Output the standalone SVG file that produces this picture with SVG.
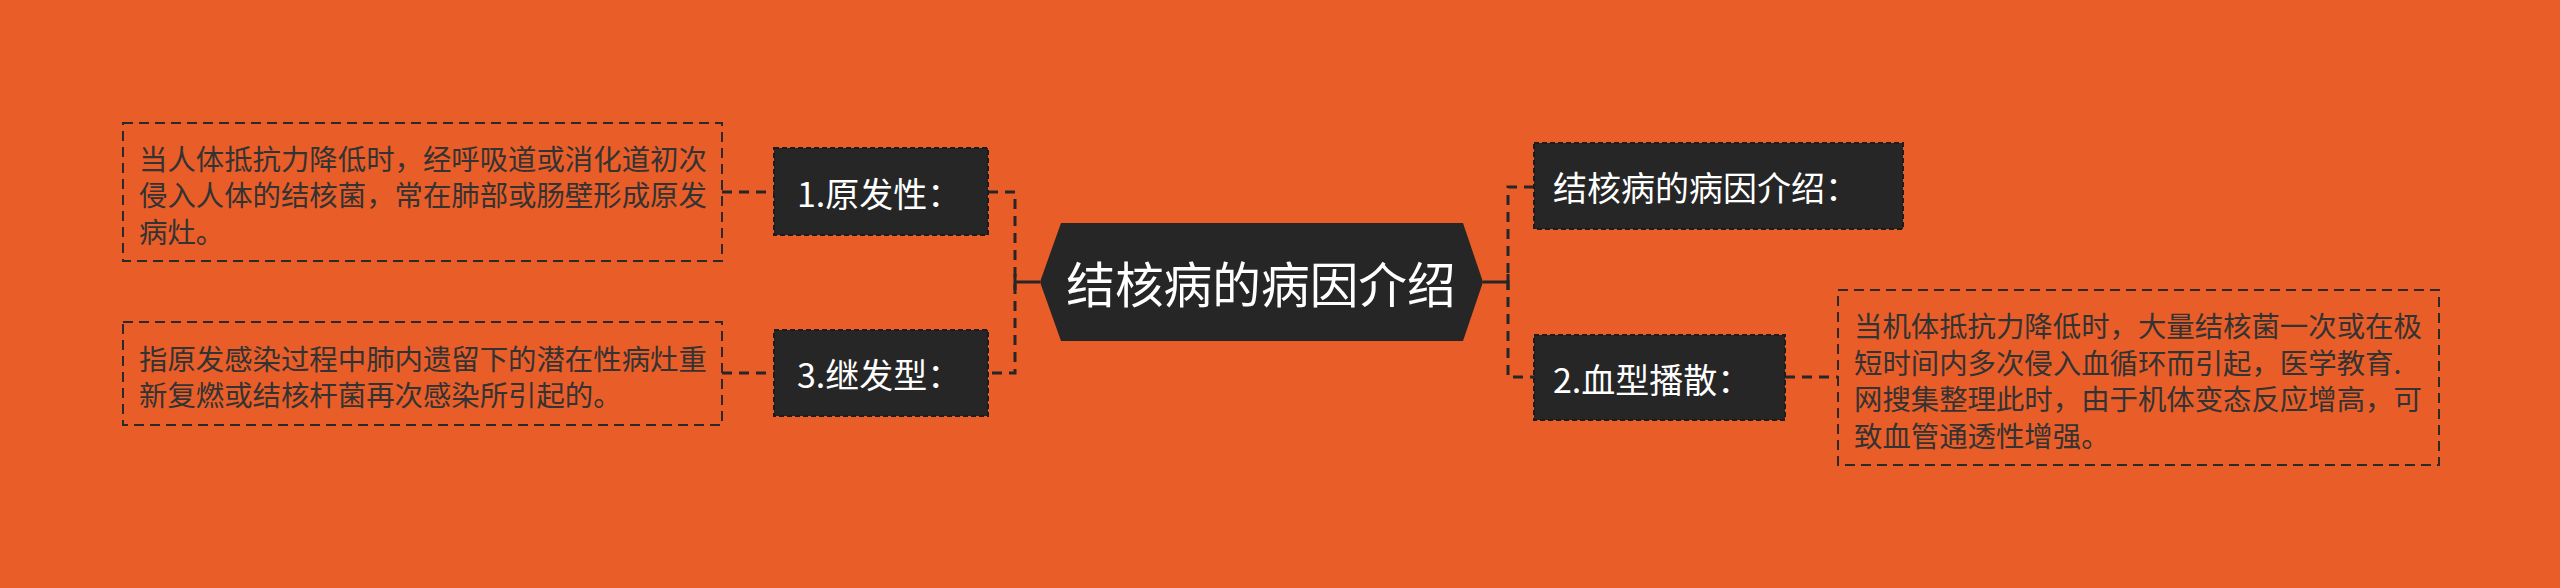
<svg xmlns="http://www.w3.org/2000/svg" width="2560" height="588" viewBox="0 0 2560 588">
<style>
.bg{fill:#E95D28}
.node{fill:#262626;stroke:#1c1c1c;stroke-width:2;stroke-dasharray:5 3}
.center{fill:#262626}
.ntext{font-family:"Noto Sans CJK SC","Noto Sans",sans-serif;font-size:34px;fill:#ffffff;dominant-baseline:central}
.ctext{font-family:"Noto Sans CJK SC","Noto Sans",sans-serif;font-size:48.7px;fill:#ffffff;dominant-baseline:central;text-anchor:middle}
.detail{fill:none;stroke:#2a2a2a;stroke-width:2;stroke-dasharray:10 6}
.dtext{font-family:"Noto Sans CJK SC","Noto Sans",sans-serif;font-size:28.4px;fill:#333333;dominant-baseline:central}
.dash{fill:none;stroke:#262626;stroke-width:3;stroke-dasharray:10 7}
.solid{fill:none;stroke:#262626;stroke-width:3}
</style>
<rect class="bg" x="0" y="0" width="2560" height="588"/>
<g id="connectors">
<path class="dash" d="M988,192 H1015 V373 H988"/>
<path class="solid" d="M1015,282 H1040 M1015,274 V290"/>
<path class="solid" d="M1483,282 H1508 M1508,274 V290"/>
<path class="dash" d="M1534,187 H1508 V377 H1534"/>
<path class="dash" d="M722,192 H774"/>
<path class="dash" d="M722,373 H774"/>
<path class="dash" d="M1785,377 H1838"/>
</g>
<g id="center">
<polygon class="center" points="1040,282 1061,223 1463,223 1483,282 1463,341 1061,341"/>
<text class="ctext" x="1261" y="282">结核病的病因介绍</text>
</g>
<g id="node1">
<rect class="node" x="774" y="148" width="214" height="87"/>
<text class="ntext" x="797" y="192">1.原发性：</text>
</g>
<g id="node3">
<rect class="node" x="774" y="330" width="214" height="86"/>
<text class="ntext" x="797" y="373">3.继发型：</text>
</g>
<g id="nodeTitle">
<rect class="node" x="1534" y="143" width="369" height="86"/>
<text class="ntext" x="1553" y="186">结核病的病因介绍：</text>
</g>
<g id="node2">
<rect class="node" x="1534" y="335" width="251" height="85"/>
<text class="ntext" x="1553" y="378">2.血型播散：</text>
</g>
<g id="detail1">
<rect class="detail" x="123" y="123" width="599" height="138"/>
<text class="dtext" x="139" y="157">当人体抵抗力降低时，经呼吸道或消化道初次</text>
<text class="dtext" x="139" y="193.5">侵入人体的结核菌，常在肺部或肠壁形成原发</text>
<text class="dtext" x="139" y="230">病灶。</text>
</g>
<g id="detail3">
<rect class="detail" x="123" y="322" width="599" height="103"/>
<text class="dtext" x="139" y="357">指原发感染过程中肺内遗留下的潜在性病灶重</text>
<text class="dtext" x="139" y="393.5">新复燃或结核杆菌再次感染所引起的。</text>
</g>
<g id="detail2">
<rect class="detail" x="1838" y="290" width="601" height="175"/>
<text class="dtext" x="1854" y="324">当机体抵抗力降低时，大量结核菌一次或在极</text>
<text class="dtext" x="1854" y="361">短时间内多次侵入血循环而引起，医学教育.</text>
<text class="dtext" x="1854" y="397">网搜集整理此时，由于机体变态反应增高，可</text>
<text class="dtext" x="1854" y="434">致血管通透性增强。</text>
</g>
</svg>
